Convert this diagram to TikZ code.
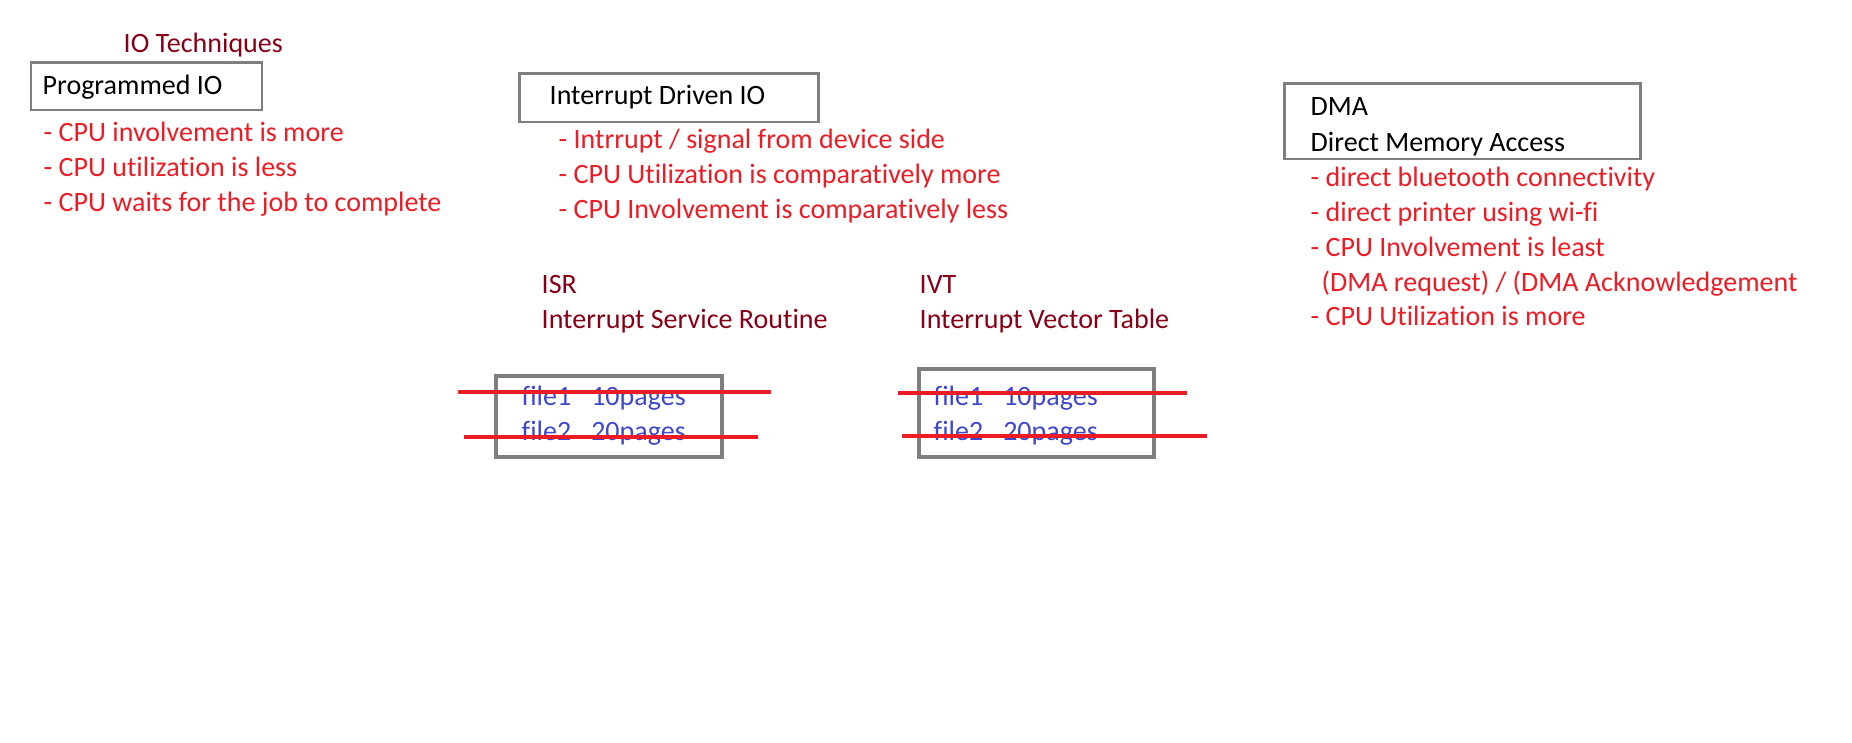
\documentclass[tikz,border=0pt]{standalone}
\usepackage{fontspec}
\setmainfont{Carlito}[RawFeature=-liga]
\definecolor{notered}{RGB}{237,28,36}
\definecolor{notedark}{RGB}{136,0,21}
\definecolor{noteblue}{RGB}{63,72,204}
\definecolor{notegray}{RGB}{127,127,127}

\tikzset{
    txt/.style={anchor=base west, inner sep=0pt, font=\fontsize{7.97}{9.96}\selectfont},
    headtxt/.style={txt, text=black},
    pointtxt/.style={txt, text=notered},
    titletxt/.style={txt, text=notedark},
    entrytxt/.style={txt, text=noteblue},
    boxframe/.style={draw=notegray, line width=0.85pt},
    strike/.style={draw=notered, line width=1.1pt},
}

\begin{document}
\begin{tikzpicture}[x=0.01cm, y=-0.01cm]
    \useasboundingbox (0,0) rectangle (1852,743);

    % title
    \node[titletxt] (iotitle) at (123,53) {IO Techniques};

    % programmed IO
    \draw[boxframe] (31,63) rectangle (262,110);
    \node[headtxt] (pio) at (42,95) {Programmed IO};
    \foreach \t [count=\i] in {{- CPU involvement is more},
                               {- CPU utilization is less},
                               {- CPU waits for the job to complete}}
        \node[pointtxt] (pio-\i) at (43,{142+35*(\i-1)}) {\t};

    % interrupt driven IO
    \draw[boxframe] (519,74) rectangle (818,122);
    \node[headtxt] (idio) at (549,104.5) {Interrupt Driven IO};
    \foreach \t [count=\i] in {{- Intrrupt / signal from device side},
                               {- CPU Utilization is comparatively more},
                               {- CPU Involvement is comparatively less}}
        \node[pointtxt] (idio-\i) at (558,{148.5+35*(\i-1)}) {\t};

    % DMA
    \draw[boxframe] (1284,84) rectangle (1640,159);
    \node[headtxt] (dma) at (1310,116) {DMA};
    \node[headtxt] (dmafull) at (1310,152) {Direct Memory Access};
    \node[pointtxt] (dma-1) at (1310,187) {- direct bluetooth connectivity};
    \node[pointtxt] (dma-2) at (1310,222) {- direct printer using wi-fi};
    \node[pointtxt] (dma-3) at (1310,257) {- CPU Involvement is least};
    \node[pointtxt] (dma-4) at (1321,292) {(DMA request) / (DMA Acknowledgement};
    \node[pointtxt] (dma-5) at (1310,326) {- CPU Utilization is more};

    % ISR and IVT
    \node[titletxt] (isr) at (541,294) {ISR};
    \node[titletxt] (isrfull) at (541,329) {Interrupt Service Routine};
    \node[titletxt] (ivt) at (919,294) {IVT};
    \node[titletxt] (ivtfull) at (919,329) {Interrupt Vector Table};

    % job tables
    \draw[boxframe, line width=1.1pt] (496,376) rectangle (722,457);
    \node[entrytxt] (isr-1) at (521,406) {file1\hspace{0.2cm}10pages};
    \node[entrytxt] (isr-2) at (521,440) {file2\hspace{0.2cm}20pages};

    \draw[boxframe, line width=1.1pt] (919,369) rectangle (1154,457);
    \node[entrytxt] (ivt-1) at (933,406) {file1\hspace{0.2cm}10pages};
    \node[entrytxt] (ivt-2) at (933,440) {file2\hspace{0.2cm}20pages};

    % crossed out
    \draw[strike] (458,392) -- (771,392);
    \draw[strike] (464,437) -- (758,437);
    \draw[strike] (898,393) -- (1187,393);
    \draw[strike] (902,436) -- (1207,436);
\end{tikzpicture}
\end{document}
